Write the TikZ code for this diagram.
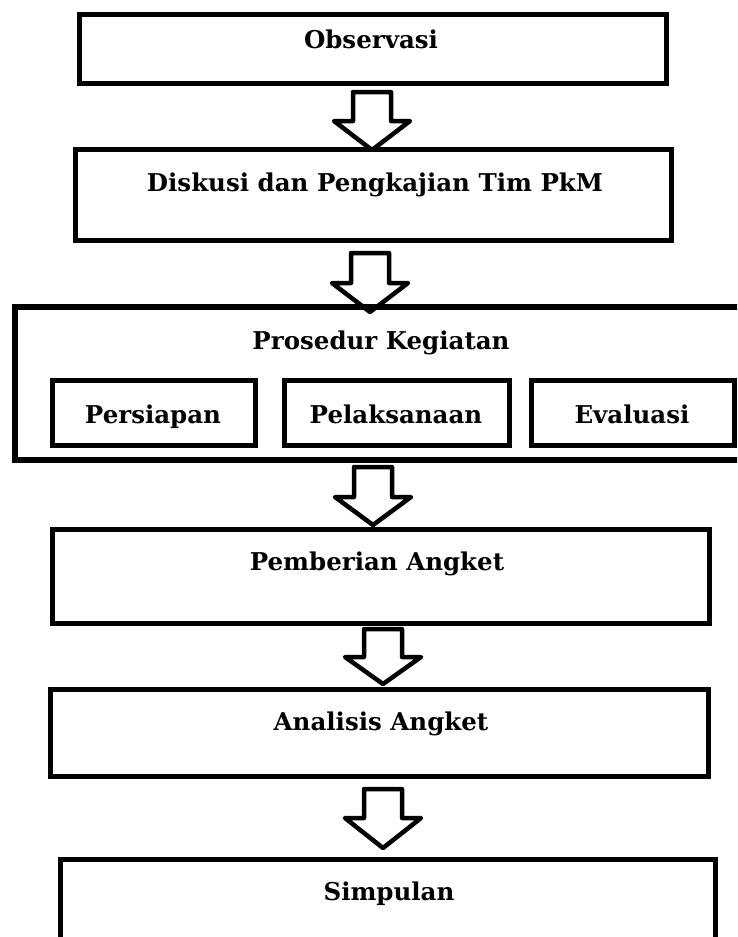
\documentclass[tikz,border=0pt]{standalone}
\usepackage{fontspec}
\setmainfont{DejaVu Serif}
\newcommand\blockarrow[4]{%
  \draw[arrowline] (#1-19,#2) -- (#1+19,#2) -- (#1+19,#3) -- (#1+38,#3) -- (#1,#4) -- (#1-38,#3) -- (#1-19,#3) -- cycle;}
\begin{document}
\begin{tikzpicture}[x=1pt,y=-1pt,
  box/.style={draw=black, line width=5pt, rectangle, inner sep=0pt, outer sep=0pt},
  bigbox/.style={box, line width=6pt},
  lbl/.style={anchor=base, inner sep=0pt, font=\bfseries\fontsize{24.5}{29}\selectfont},
  arrowline/.style={draw=black, line width=4.5pt, line join=round}]
\path[use as bounding box] (0,0) rectangle (737,937);
\clip (0,0) rectangle (737,937);
% boxes
\node[box, minimum width=587pt, minimum height=69pt] (obs) at (373,49) {};
\node[box, minimum width=596pt, minimum height=91pt] (disk) at (373.5,195) {};
\node[bigbox, minimum width=745pt, minimum height=153pt] (pros) at (387.5,383.5) {};
\node[box, minimum width=203.5pt, minimum height=65pt] (pers) at (153.75,413) {};
\node[box, minimum width=225pt, minimum height=65pt] (pel) at (397,413) {};
\node[box, minimum width=203pt, minimum height=65pt] (eval) at (633,413) {};
\node[box, minimum width=657pt, minimum height=94pt] (pemb) at (381,576.5) {};
\node[box, minimum width=658pt, minimum height=87pt] (anal) at (379.5,733) {};
\node[box, minimum width=655pt, minimum height=121pt] (simp) at (388,920) {};
% labels
\node[lbl] (tobs) at (371,48) {Observasi};
\node[lbl] (tdisk) at (375,191) {Diskusi dan Pengkajian Tim PkM};
\node[lbl] (tpros) at (381,349) {Prosedur Kegiatan};
\node[lbl] (tpers) at (153,423) {Persiapan};
\node[lbl] (tpel) at (396,423) {Pelaksanaan};
\node[lbl] (teval) at (632,423) {Evaluasi};
\node[lbl] (tpemb) at (377,570) {Pemberian Angket};
\node[lbl] (tanal) at (381,730) {Analisis Angket};
\node[lbl] (tsimp) at (389,900) {Simpulan};
% block arrows
\blockarrow{372}{92}{121}{150}
\blockarrow{370}{253}{283}{312}
\blockarrow{373}{467}{497}{525}
\blockarrow{383}{629}{657}{684}
\blockarrow{383}{789}{818}{848}
\end{tikzpicture}
\end{document}
